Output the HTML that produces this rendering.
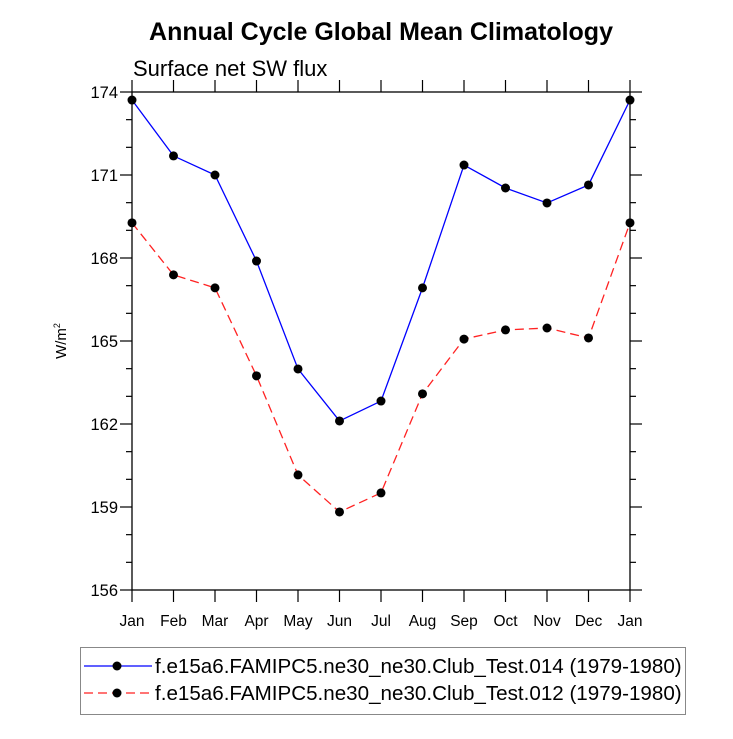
<!DOCTYPE html>
<html><head><meta charset="utf-8"><style>body{margin:0;background:#fff}svg text{font-family:"Liberation Sans",Arial,sans-serif}</style></head>
<body>
<svg width="733" height="734" xmlns="http://www.w3.org/2000/svg">
<text x="381" y="40" text-anchor="middle" font-size="25" font-weight="bold">Annual Cycle Global Mean Climatology</text>
<text x="133" y="76" font-size="22">Surface net SW flux</text>
<text transform="translate(66,341) rotate(-90)" text-anchor="middle" font-size="15">W/m<tspan dy="-6" font-size="9">2</tspan></text>
<g id="axes"></g>
<g id="series"></g>
<g>
<rect x="80.5" y="647.5" width="605" height="67" fill="none" stroke="#888" stroke-width="1"/>
<g>
<line x1="84" y1="666" x2="152" y2="666" stroke="#0000ff" stroke-width="1.3"/>
<circle cx="117" cy="666" r="4.5" fill="#000"/>
<text x="155" y="673" font-size="20.6">f.e15a6.FAMIPC5.ne30_ne30.Club_Test.014 (1979-1980)</text>
</g>
<g>
<line x1="84" y1="693" x2="152" y2="693" stroke="#ff2222" stroke-width="1.3" stroke-dasharray="9,5"/>
<circle cx="117" cy="693" r="4.5" fill="#000"/>
<text x="155" y="700" font-size="20.6">f.e15a6.FAMIPC5.ne30_ne30.Club_Test.012 (1979-1980)</text>
</g>
</g>
</svg>
<script>
const months=["Jan","Feb","Mar","Apr","May","Jun","Jul","Aug","Sep","Oct","Nov","Dec","Jan"];
const test014=[173.71,171.69,171.0,167.89,163.99,162.11,162.83,166.92,171.36,170.53,169.99,170.64,173.71];
const test012=[169.27,167.39,166.92,163.74,160.16,158.82,159.51,163.09,165.07,165.4,165.47,165.11,169.27];
const yTicks=[156,159,162,165,168,171,174];
const NS="http://www.w3.org/2000/svg";
const L=132,R=630,T=92,B=590,yMin=156,yMax=174;
const xs=i=>L+(R-L)*i/(months.length-1);
const ys=v=>B-(v-yMin)/(yMax-yMin)*(B-T);
function mk(tag,attrs,parent){const e=document.createElementNS(NS,tag);for(const k in attrs)e.setAttribute(k,attrs[k]);parent.appendChild(e);return e;}
const ax=document.getElementById('axes');
const frame=mk('rect',{x:L,y:T,width:R-L,height:B-T,fill:'none',stroke:'#000','stroke-width':1.3},ax);


months.forEach((m,i)=>{const x=xs(i);
mk('line',{x1:x,y1:B,x2:x,y2:B+12,stroke:'#000','stroke-width':1.2},ax);
mk('line',{x1:x,y1:T,x2:x,y2:T-12,stroke:'#000','stroke-width':1.2},ax);
const t=mk('text',{x:x,y:B+36,'text-anchor':'middle','font-size':15.5},ax);t.textContent=m;

});
for(let v=yMin;v<=yMax;v++){const y=ys(v);const maj=yTicks.includes(v);const len=maj?12:6;
mk('line',{x1:L,y1:y,x2:L-len,y2:y,stroke:'#000','stroke-width':1.2},ax);
mk('line',{x1:R,y1:y,x2:R+len,y2:y,stroke:'#000','stroke-width':1.2},ax);}
yTicks.forEach(v=>{const t=mk('text',{x:L-14,y:ys(v)+6,'text-anchor':'end','font-size':16.5},ax);t.textContent=v;

});
const sg=document.getElementById('series');
function series(vals,color,dash,name){const g=mk('g',{},sg);


mk('polyline',{points:vals.map((v,i)=>xs(i)+','+ys(v)).join(' '),fill:'none',stroke:color,'stroke-width':1.3,'stroke-dasharray':dash},g);
vals.forEach((v,i)=>{const c=mk('circle',{cx:xs(i),cy:ys(v),r:4.5,fill:'#000'},g);

});}
series(test012,'#ff2222','9,5','series-test012');
series(test014,'#0000ff','none','series-test014');
</script>
</body></html>
